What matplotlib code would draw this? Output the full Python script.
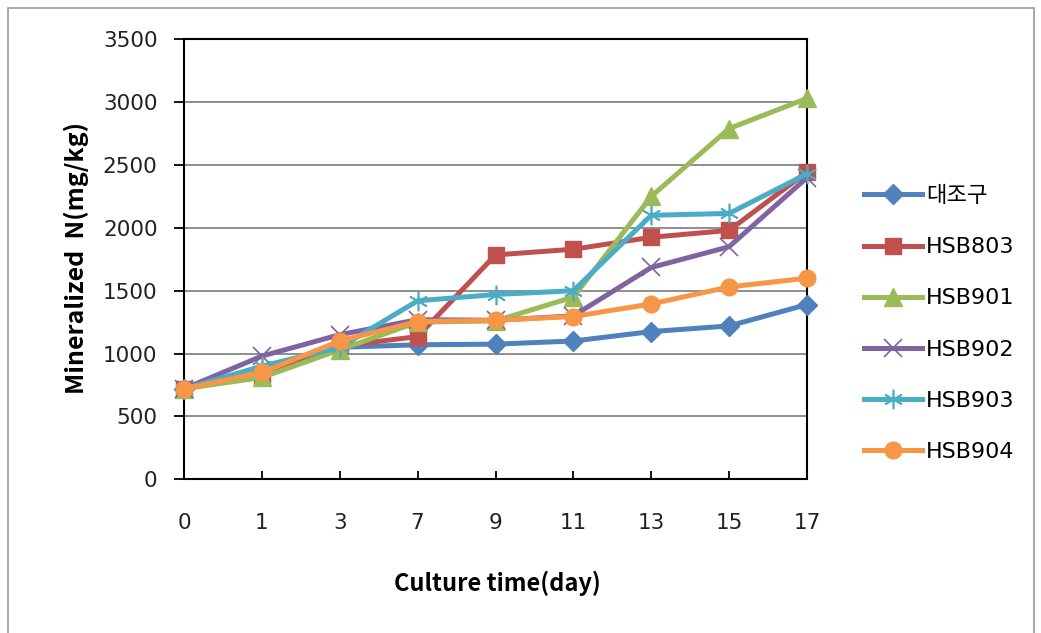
import matplotlib
matplotlib.use('Agg')
import matplotlib.pyplot as plt
from matplotlib.patches import Rectangle

plt.rcParams['font.family'] = ['DejaVu Sans', 'Noto Sans CJK KR']

# Culture days (evenly spaced categories) and mineralized N, mg/kg
days = ['0', '1', '3', '7', '9', '11', '13', '15', '17']
ctrl = [720, 850, 1050, 1070, 1075, 1100, 1175, 1220, 1390]
hsb803 = [720, 830, 1060, 1135, 1785, 1830, 1925, 1980, 2445]
hsb901 = [720, 810, 1030, 1250, 1260, 1450, 2250, 2790, 3030]
hsb902 = [720, 980, 1150, 1270, 1265, 1300, 1685, 1850, 2400]
hsb903 = [720, 900, 1050, 1420, 1470, 1500, 2100, 2115, 2430]
hsb904 = [720, 850, 1100, 1255, 1265, 1295, 1395, 1530, 1600]

series = [
    ('대조구', ctrl, '#4F81BD', dict(marker='D', markersize=10)),
    ('HSB803', hsb803, '#C0504D', dict(marker='s', markersize=12)),
    ('HSB901', hsb901, '#9BBB59', dict(marker='^', markersize=13)),
    ('HSB902', hsb902, '#8064A2', dict(marker='x', markersize=13, markeredgewidth=1.2)),
    ('HSB903', hsb903, '#4BACC6', dict(marker=(6, 2, 0), markersize=14, markeredgewidth=1.2)),
    ('HSB904', hsb904, '#F79646', dict(marker='o', markersize=12)),
]

fig = plt.figure(figsize=(10.41, 6.33), dpi=100)
fig.patch.set_facecolor('white')
ax = fig.add_axes([184 / 1041, 1 - 479.3 / 633, (807 - 184) / 1041, (479.3 - 39.3) / 633])

x = list(range(len(days)))
for name, vals, col, mk in series:
    ax.plot(x, vals, color=col, linewidth=3.6, label=name, clip_on=False,
            markerfacecolor=col, markeredgecolor=col, zorder=3, **mk)

ax.set_xlim(0, len(days) - 1)
ax.set_ylim(0, 3500)
ax.set_yticks(range(0, 3501, 500))
ax.set_xticks(x)
ax.set_xticklabels(days)
ax.yaxis.grid(True, color='#868686', linewidth=1.3)
ax.set_axisbelow(True)
for s in ax.spines.values():
    s.set_color('black')
    s.set_linewidth(1.5)
ax.tick_params(axis='y', direction='out', length=7, width=1.3, labelsize=15.5, pad=12, labelcolor='#222222')
ax.tick_params(axis='x', direction='in', length=6, width=1.3, labelsize=15.5, pad=24, labelcolor='#222222')

fig.text(497 / 1041, 1 - 583 / 633, 'Culture time(day)', ha='center', va='center',
         fontsize=17, fontweight='bold', family='Noto Sans CJK KR')
fig.text(76 / 1041, 1 - 258 / 633, 'Mineralized  N(mg/kg)', ha='center', va='center',
         rotation=90, fontsize=18, fontweight='bold', family='Noto Sans CJK KR')

fig.legend(loc='center left', bbox_to_anchor=(864 / 1041, 1 - 324 / 633), frameon=False,
           fontsize=16, handlelength=2.6, handletextpad=0.2, labelspacing=1.4,
           borderpad=0, borderaxespad=0)

# light outer chart border
fig.patches.append(Rectangle((8 / 1041, -0.02), 1026 / 1041, 1.02 - 8 / 633,
                             transform=fig.transFigure, fill=False,
                             edgecolor='#9a9a9a', linewidth=1.2))

fig.savefig('out.png', dpi=100)
